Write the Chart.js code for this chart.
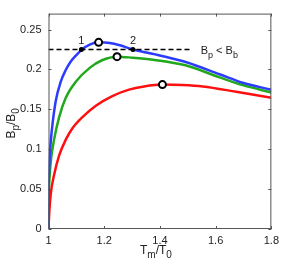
<!DOCTYPE html>
<html>
<head>
<meta charset="utf-8">
<script src="https://cdn.jsdelivr.net/npm/chart.js@4"></script>
<style>
  html, body { margin: 0; padding: 0; background: #fff; }
  #wrap { width: 284px; height: 263px; }
</style>
</head>
<body>
<div id="wrap"><canvas id="myChart" width="284" height="263"></canvas></div>
<script>
  // T_m/T_0 and B_p/B_0
  const blueX = [1, 1.0005, 1.002, 1.006, 1.012, 1.026, 1.044, 1.06, 1.08, 1.1, 1.12, 1.15, 1.18, 1.22, 1.256, 1.303, 1.4, 1.495, 1.614, 1.7, 1.8];
  const blueY = [0, 0.05, 0.0718, 0.1, 0.124, 0.1605, 0.1847, 0.198, 0.21, 0.218, 0.225, 0.2315, 0.234, 0.2332, 0.2303, 0.225, 0.2175, 0.209, 0.194, 0.183, 0.1745];

  const greenX = [1, 1.0005, 1.002, 1.008, 1.02, 1.038, 1.062, 1.098, 1.148, 1.192, 1.246, 1.3, 1.375, 1.495, 1.614, 1.7, 1.8];
  const greenY = [0, 0.038, 0.055, 0.084, 0.112, 0.14, 0.1645, 0.1847, 0.202, 0.2115, 0.216, 0.2148, 0.2122, 0.2049, 0.19, 0.18, 0.1712];

  const redX = [1, 1.002, 1.008, 1.02, 1.038, 1.062, 1.086, 1.122, 1.17, 1.229, 1.289, 1.343, 1.409, 1.48, 1.554, 1.674, 1.8];
  const redY = [0, 0.016, 0.0436, 0.0677, 0.092, 0.112, 0.1263, 0.1403, 0.1545, 0.1666, 0.1747, 0.1787, 0.181, 0.1805, 0.1787, 0.172, 0.1645];

  // maxima (open circles)
  const peakX = [1.18, 1.246, 1.409];
  const peakY = [0.234, 0.216, 0.181];

  // crossings of the threshold line (filled dots)
  const crossX = [1.118, 1.303];
  const crossY = [0.225, 0.225];
  const crossLabels = ['1', '2'];

  // threshold B_p = B_b
  const limitX = [1, 1.514];
  const limitY = [0.225, 0.225];

  const xTicks = [1, 1.2, 1.4, 1.6, 1.8];
  const yTicks = [0, 0.05, 0.1, 0.15, 0.2, 0.25];

  const pts = (xs, ys) => xs.map((x, i) => ({x: x, y: ys[i]}));

  const curve = (label, xs, ys, color) => ({
    label: label,
    data: pts(xs, ys),
    borderColor: color,
    borderWidth: 2.5,
    pointRadius: 0,
    cubicInterpolationMode: 'monotone',
    fill: false
  });

  // text with subscripts, e.g. [['B',0],['p',1],['/B',0],['0',1]]
  function drawSub(ctx, parts, x, y, size) {
    let w = 0;
    parts.forEach(p => {
      ctx.font = (p[1] ? size - 2 : size) + 'px "Liberation Sans", Arial, sans-serif';
      w += ctx.measureText(p[0]).width;
    });
    let cx = x - w / 2;
    parts.forEach(p => {
      ctx.font = (p[1] ? size - 2 : size) + 'px "Liberation Sans", Arial, sans-serif';
      ctx.fillText(p[0], cx, p[1] ? y + 4 : y);
      cx += ctx.measureText(p[0]).width;
    });
  }

  const frame = {
    id: 'frame',
    afterDraw(chart) {
      const ctx = chart.ctx;
      const a = chart.chartArea;
      const xs = chart.scales.x, ys = chart.scales.y;
      ctx.save();
      ctx.strokeStyle = '#555';
      ctx.lineWidth = 1;
      ctx.strokeRect(a.left + 0.5, a.top + 0.5, a.right - a.left - 1, a.bottom - a.top - 1);
      xTicks.forEach(v => {
        const px = Math.round(xs.getPixelForValue(v)) + 0.5;
        ctx.beginPath();
        ctx.moveTo(px, a.bottom); ctx.lineTo(px, a.bottom - 3);
        ctx.moveTo(px, a.top); ctx.lineTo(px, a.top + 3);
        ctx.stroke();
      });
      yTicks.forEach(v => {
        const py = Math.round(ys.getPixelForValue(v)) + 0.5;
        ctx.beginPath();
        ctx.moveTo(a.left, py); ctx.lineTo(a.left + 3, py);
        ctx.moveTo(a.right, py); ctx.lineTo(a.right - 3, py);
        ctx.stroke();
      });

      ctx.fillStyle = '#222';
      ctx.textBaseline = 'alphabetic';
      ctx.textAlign = 'left';
      // numbers above the crossing dots
      ctx.font = '11px "Liberation Sans", Arial, sans-serif';
      crossX.forEach((v, i) => {
        const px = xs.getPixelForValue(v);
        const py = ys.getPixelForValue(crossY[i]);
        ctx.fillText(crossLabels[i], px - 3, py - 6);
      });
      // threshold label
      const lx = xs.getPixelForValue(limitX[1]) + 9;
      const ly = ys.getPixelForValue(limitY[1]) + 4;
      let cx = lx;
      [['B', 0], ['p', 1], [' < B', 0], ['b', 1]].forEach(p => {
        ctx.font = (p[1] ? 9 : 11) + 'px "Liberation Sans", Arial, sans-serif';
        ctx.fillText(p[0], cx, p[1] ? ly + 4 : ly);
        cx += ctx.measureText(p[0]).width;
      });
      // x title
      drawSub(ctx, [['T', 0], ['m', 1], ['/T', 0], ['0', 1]], (a.left + a.right) / 2 - 4, 254, 12);
      // y title
      ctx.translate(15, (a.top + a.bottom) / 2 + 2);
      ctx.rotate(-Math.PI / 2);
      drawSub(ctx, [['B', 0], ['p', 1], ['/B', 0], ['0', 1]], 0, 0, 12);
      ctx.restore();
    }
  };

  const data = {
    datasets: [
      {
        label: 'peaks',
        data: pts(peakX, peakY),
        showLine: false,
        pointRadius: 3.5,
        pointBorderWidth: 2,
        pointBorderColor: '#000',
        pointBackgroundColor: '#fff'
      },
      {
        label: 'crossings',
        data: pts(crossX, crossY),
        showLine: false,
        pointRadius: 2.5,
        pointBorderWidth: 0,
        pointBackgroundColor: '#000'
      },
      {
        label: 'limit',
        data: pts(limitX, limitY),
        borderColor: '#000',
        borderWidth: 1.6,
        borderDash: [5, 3],
        pointRadius: 0
      },
      curve('blue', blueX, blueY, '#2b3cff'),
      curve('green', greenX, greenY, '#22a81c'),
      curve('red', redX, redY, '#ff1010')
    ]
  };

  const config = {
    type: 'line',
    data: data,
    plugins: [frame],
    options: {
      responsive: false,
      animation: false,
      layout: { padding: { left: 0, right: 12, top: 5, bottom: 0 } },
      plugins: { legend: { display: false }, tooltip: { enabled: false } },
      scales: {
        x: {
          type: 'linear',
          min: 1, max: 1.8,
          afterBuildTicks: s => { s.ticks = xTicks.map(v => ({value: v})); },
          afterFit: s => { s.height = 34; },
          grid: { display: false, drawTicks: false },
          border: { display: false },
          ticks: {
            padding: 5,
            color: '#222',
            font: { family: '"Liberation Sans", Arial, sans-serif', size: 11 },
            callback: v => String(v)
          }
        },
        y: {
          type: 'linear',
          min: 0, max: 0.27,
          afterBuildTicks: s => { s.ticks = yTicks.map(v => ({value: v})); },
          afterFit: s => { s.width = 48.5; },
          grid: { display: false, drawTicks: false },
          border: { display: false },
          ticks: {
            padding: 7,
            color: '#222',
            font: { family: '"Liberation Sans", Arial, sans-serif', size: 11 },
            callback: v => String(v)
          }
        }
      }
    }
  };

  const myChart = new Chart(
    document.getElementById('myChart'),
    config
  );
</script>
</body>
</html>
